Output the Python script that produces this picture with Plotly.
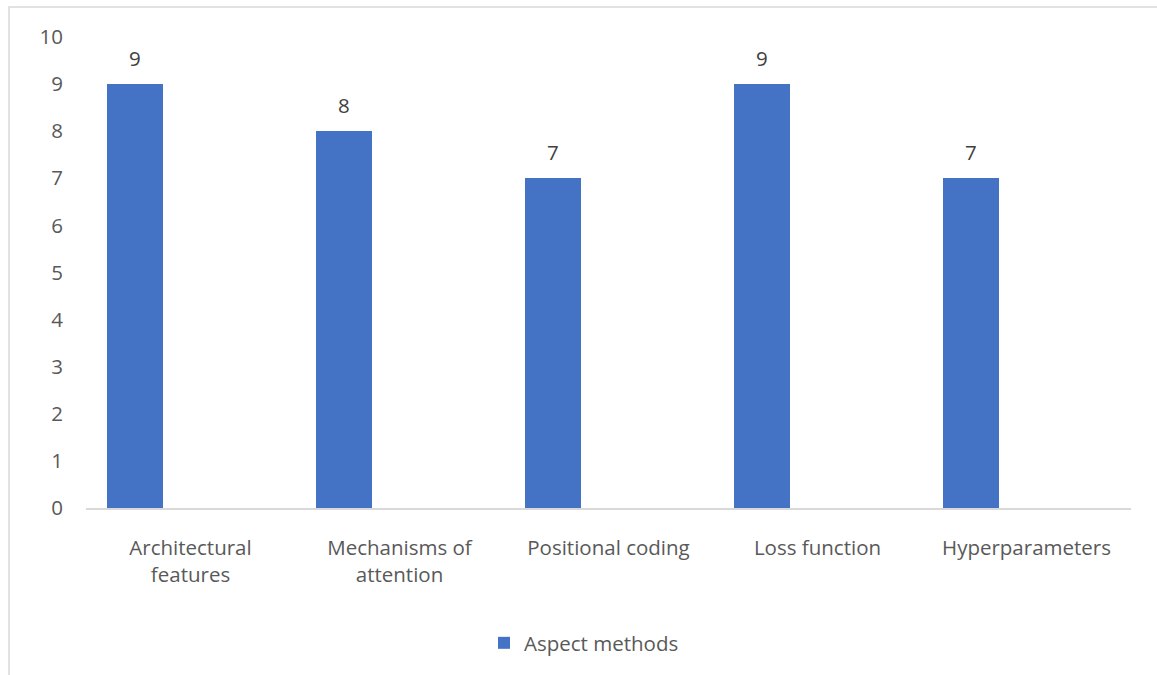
import plotly.graph_objects as go

categories = ["Architectural<br>features", "Mechanisms of<br>attention", "Positional coding",
              "Loss function", "Hyperparameters"]
values = [9, 8, 7, 9, 7]
series_name = "Aspect methods"
y_ticks = list(range(0, 11))

BAR_COLOR = "#4472C4"
AXIS_COLOR = "#D9D9D9"
TICK_COLOR = "#595959"
LABEL_COLOR = "#404040"
FONT = "Open Sans"
FS = 20.5

# bar sits in the left half of each category slot
bar_offset = -0.40
bar_width = 0.268

fig = go.Figure()
fig.add_trace(go.Bar(
    x=list(range(len(categories))),
    y=values,
    name=series_name,
    marker=dict(color=BAR_COLOR, line=dict(width=0)),
    offset=bar_offset,
    width=bar_width,
    showlegend=True,
))

# value labels above each bar
for i, v in enumerate(values):
    fig.add_annotation(
        x=i + bar_offset + bar_width / 2, y=v, text=str(v),
        showarrow=False, yshift=26, yanchor="middle",
        font=dict(family=FONT, size=FS, color=LABEL_COLOR),
    )

# plot area occupies px 86..1131 horizontally, 37..508 vertically
W, H = 1157, 675
L, R, T, B = 86, 1131, 37, 508
pw, ph = R - L, B - T

def px_x(x):
    return (x - L) / pw

def px_y(y):
    return (B - y) / ph

# light chart border (left and top edges visible)
fig.add_shape(type="rect", xref="paper", yref="paper",
              x0=px_x(9), x1=px_x(W + 20), y0=px_y(H + 20), y1=px_y(7),
              line=dict(color=AXIS_COLOR, width=1.5), fillcolor="rgba(0,0,0,0)",
              layer="below")

fig.update_layout(
    width=W, height=H,
    margin=dict(l=L, r=W - R, t=T, b=H - B),
    paper_bgcolor="white", plot_bgcolor="white",
    font=dict(family=FONT, color=TICK_COLOR, size=FS),
    bargap=0,
    xaxis=dict(
        tickmode="array", tickvals=list(range(len(categories))), ticktext=categories,
        range=[-0.5, len(categories) - 0.5],
        showgrid=False, zeroline=False,
        showline=True, linecolor=AXIS_COLOR, linewidth=1.5,
        ticks="", ticklabelstandoff=21,
        tickfont=dict(family=FONT, size=FS, color=TICK_COLOR),
    ),
    yaxis=dict(
        range=[0, 10], tickmode="array", tickvals=y_ticks,
        showgrid=False, zeroline=False, showline=False,
        ticks="", ticklabelstandoff=22,
        tickfont=dict(family=FONT, size=FS, color=TICK_COLOR),
    ),
    legend=dict(
        orientation="h", x=px_x(484), y=px_y(643), xanchor="left", yanchor="middle",
        font=dict(family=FONT, size=FS, color=TICK_COLOR),
        bgcolor="rgba(0,0,0,0)",
    ),
)

fig.write_html("out.html")
